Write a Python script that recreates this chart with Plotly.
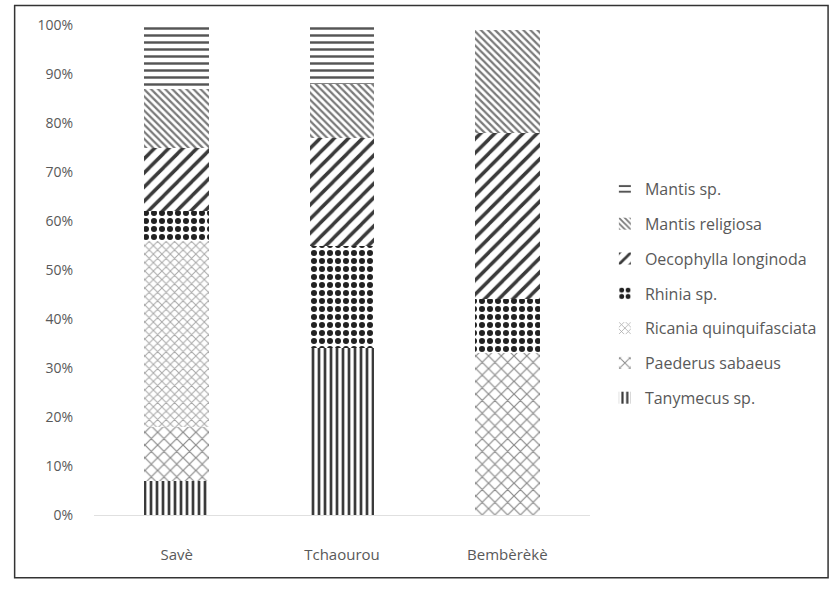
import plotly.graph_objects as go

sites = ["Savè", "Tchaourou", "Bembèrèkè"]

# Share of each species per site (%), stacked bottom to top
tanymecus = [7, 34, 0]
paederus = [11, 0, 33]
ricania = [38, 0, 0]
rhinia = [6, 21, 11]
oecophylla = [13, 22, 34]
mantis_religiosa = [12, 11, 21]
mantis_sp = [13, 12, 0]

y_ticks = [0, 10, 20, 30, 40, 50, 60, 70, 80, 90, 100]
y_tick_text = [f"{v}%" for v in y_ticks]

series = [
    ("Tanymecus sp.", tanymecus, dict(shape="|", fgcolor="#3a3a3a", size=6, solidity=0.45)),
    ("Paederus sabaeus", paederus, dict(shape="x", fgcolor="#8a8a8a", size=9, solidity=0.25)),
    ("Ricania quinquifasciata", ricania, dict(shape="x", fgcolor="#a8a8a8", size=6, solidity=0.3)),
    ("Rhinia sp.", rhinia, dict(shape=".", fgcolor="#222222", size=8, solidity=0.45)),
    ("Oecophylla longinoda", oecophylla, dict(shape="/", fgcolor="#3a3a3a", size=10, solidity=0.35)),
    ("Mantis religiosa", mantis_religiosa, dict(shape="\\", fgcolor="#7a7a7a", size=5, solidity=0.45)),
    ("Mantis sp.", mantis_sp, dict(shape="-", fgcolor="#555555", size=7, solidity=0.35)),
]

n = len(series)
fig = go.Figure()
for i, (name, vals, pat) in enumerate(series):
    fig.add_trace(go.Bar(
        x=sites, y=vals, name=name, legendgroup=name, legendrank=n - i,
        marker=dict(color="white", line=dict(width=0),
                    pattern=dict(bgcolor="white", fillmode="replace", **pat)),
    ))

fig.update_layout(
    width=836, height=589,
    barmode="stack", bargap=0.61,
    paper_bgcolor="white", plot_bgcolor="white",
    margin=dict(l=94, r=246, t=25, b=74),
    font=dict(family="Open Sans", color="#595959", size=14),
    legend=dict(
        x=1.03, y=0.70, xanchor="left", yanchor="top",
        traceorder="grouped", tracegroupgap=11,
        font=dict(size=16, color="#595959"),
        bgcolor="rgba(0,0,0,0)",
    ),
    xaxis=dict(showline=True, linecolor="#e0e0e0", ticks="",
               ticklabelstandoff=26, tickfont=dict(size=15)),
    yaxis=dict(range=[0, 100], tickvals=y_ticks, ticktext=y_tick_text,
               showgrid=False, zeroline=False, ticklabelstandoff=20,
               tickfont=dict(size=14)),
    shapes=[dict(type="rect", xref="paper", yref="paper",
                 x0=-0.16, x1=1.48, y0=-0.128, y1=1.04,
                 line=dict(color="#333333", width=1.5))],
)

fig.write_html("out.html")
